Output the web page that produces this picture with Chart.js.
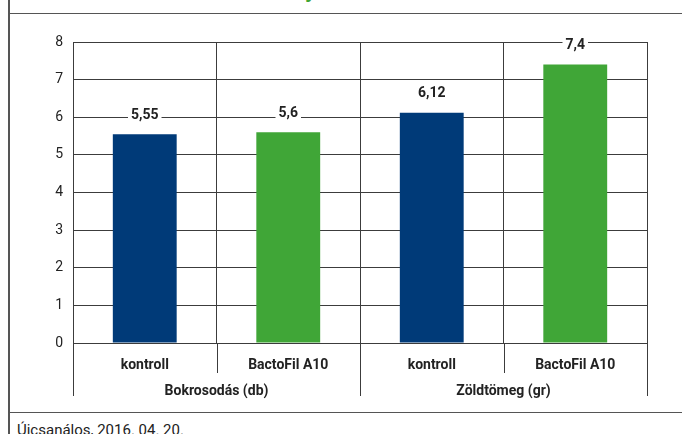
<!DOCTYPE html>
<html>
<head>
<meta charset="utf-8">
<script src="https://cdn.jsdelivr.net/npm/chart.js@4.4.0/dist/chart.umd.min.js"></script>
<style>
  html, body { margin: 0; padding: 0; background: #fff; }
  body { width: 682px; height: 434px; position: relative; overflow: hidden; font-family: Roboto, sans-serif; }
  #frame { position: absolute; left: 8px; top: 13px; width: 674px; height: 400px;
           border-left: 1.5px solid #555; border-top: 1.5px solid #555; border-bottom: 1.5px solid #555; box-sizing: border-box; }
  #leftline { position: absolute; left: 8px; top: 0; width: 1.5px; height: 434px; background: #555; }
  #wrap { position: absolute; left: 10px; top: 14px; width: 672px; height: 399px; }
  #titleTail { position: absolute; left: 305px; top: -23px; font: bold 22px Roboto, sans-serif; color: #3fa535; }
  #footer { position: absolute; left: 17px; top: 421px; font: 15px Roboto, sans-serif; color: #222; white-space: nowrap; }
</style>
</head>
<body>
<div id="titleTail">y</div>
<div id="leftline"></div>
<div id="frame"></div>
<div id="wrap"><canvas id="myChart" width="672" height="399"></canvas></div>
<div id="footer">Úicsanálos, 2016. 04. 20.</div>
<script>
// chart data
const categories = ['kontroll', 'BactoFil A10', 'kontroll', 'BactoFil A10'];
const groups = ['Bokrosodás (db)', 'Zöldtömeg (gr)'];
const values = [5.55, 5.6, 6.12, 7.4];
const valueLabels = ['5,55', '5,6', '6,12', '7,4'];
const barColors = ['#003a78', '#40a637', '#003a78', '#40a637'];

const lineColor = '#3c3c3c';

// value labels with white background above each bar
const valueLabelPlugin = {
    id: 'valueLabels',
    afterDatasetsDraw(chart) {
        const ctx = chart.ctx;
        const meta = chart.getDatasetMeta(0);
        ctx.save();
        ctx.font = 'bold 14px Roboto, sans-serif';
        ctx.textAlign = 'center';
        ctx.textBaseline = 'middle';
        meta.data.forEach((bar, i) => {
            const txt = valueLabels[i];
            const y = bar.y - 19;
            const w = ctx.measureText(txt).width;
            ctx.fillStyle = '#fff';
            ctx.fillRect(bar.x - w / 2 - 3, y - 8, w + 6, 16);
            ctx.fillStyle = '#222';
            ctx.fillText(txt, bar.x, y);
        });
        ctx.restore();
    }
};

// tick extensions below the axis and the group labels
const groupAxisPlugin = {
    id: 'groupAxis',
    afterDraw(chart) {
        const ctx = chart.ctx;
        const x = chart.scales.x;
        const bottom = chart.chartArea.bottom;
        const half = (x.getPixelForValue(1) - x.getPixelForValue(0)) / 2;
        const bounds = [];
        for (let i = 0; i < categories.length; i++) bounds.push(x.getPixelForValue(i) - half);
        bounds.push(x.getPixelForValue(categories.length - 1) + half);

        ctx.save();
        ctx.strokeStyle = lineColor;
        ctx.lineWidth = 1;
        bounds.forEach((bx, i) => {
            const len = (i % 2 === 0) ? 53 : 30;
            const px = Math.round(bx) + 0.5;
            ctx.beginPath();
            ctx.moveTo(px, bottom);
            ctx.lineTo(px, bottom + len);
            ctx.stroke();
        });
        ctx.font = 'bold 14px Roboto, sans-serif';
        ctx.fillStyle = '#222';
        ctx.textAlign = 'center';
        ctx.textBaseline = 'middle';
        groups.forEach((g, i) => {
            const cx = (bounds[i * 2] + bounds[i * 2 + 2]) / 2;
            ctx.fillText(g, cx, bottom + 48);
        });
        ctx.restore();
    }
};

const ctx = document.getElementById('myChart').getContext('2d');
const myChart = new Chart(ctx, {
    type: 'bar',
    data: {
        labels: categories,
        datasets: [{
            data: values,
            backgroundColor: barColors,
            borderWidth: 0,
            barPercentage: 0.89,
            categoryPercentage: 0.5
        }]
    },
    options: {
        responsive: false,
        animation: false,
        devicePixelRatio: 1,
        layout: { padding: { top: 28, right: 35, left: 0, bottom: 0 } },
        plugins: { legend: { display: false }, tooltip: { enabled: false } },
        scales: {
            x: {
                grid: { color: lineColor, lineWidth: 1, offset: true, drawTicks: false },
                border: { color: lineColor },
                ticks: {
                    color: '#222',
                    font: { family: 'Roboto', size: 14, weight: 'bold' },
                    padding: 14,
                    maxRotation: 0
                },
                afterFit(scale) { scale.height = 70; }
            },
            y: {
                min: 0,
                max: 8,
                grid: { color: lineColor, lineWidth: 1, drawTicks: false },
                border: { color: lineColor },
                ticks: {
                    stepSize: 1,
                    color: '#222',
                    font: { family: 'Roboto', size: 14 },
                    padding: 10
                },
                afterFit(scale) { scale.width = 63; }
            }
        }
    },
    plugins: [valueLabelPlugin, groupAxisPlugin]
});
</script>
</body>
</html>
